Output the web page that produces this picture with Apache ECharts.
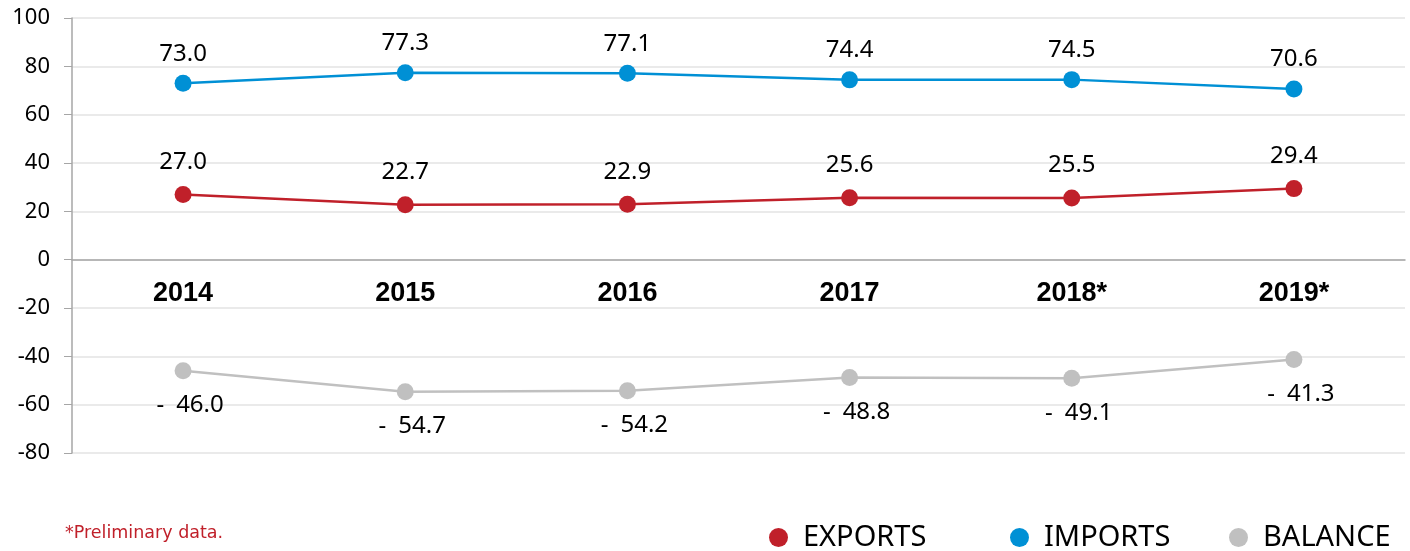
<!DOCTYPE html>
<html lang="en">
<head>
    <meta charset="UTF-8">
    <title>Trade balance</title>
    <script src="https://cdn.jsdelivr.net/npm/echarts@6.0.0/dist/echarts.min.js"></script>
    <style>
        body {
            margin: 0;
            background: #fff;
        }
    </style>
</head>
<body>
    <div id="chart" style="width: 1410px; height: 551px;"></div>
    <script type="text/javascript">
        const years = ['2014', '2015', '2016', '2017', '2018*', '2019*'];
        const exportsData = [27.0, 22.7, 22.9, 25.6, 25.5, 29.4];
        const importsData = [73.0, 77.3, 77.1, 74.4, 74.5, 70.6];
        const balanceData = [-46.0, -54.7, -54.2, -48.8, -49.1, -41.3];

        const chart = echarts.init(document.getElementById('chart'), null, { renderer: 'canvas' });

        const labelFont = { fontFamily: 'Noto Sans', fontSize: 24, color: '#000' };
        const fmt = p => p.value.toFixed(1);

        // one legend per item so each can sit where the original has it
        const legendItem = (name, left) => ({
            left: left,
            top: 518,
            icon: 'circle',
            itemWidth: 19,
            itemHeight: 19,
            textStyle: { fontFamily: 'Noto Sans', fontSize: 29, color: '#000', padding: [0, 0, 0, 10] },
            data: [name]
        });

        // grid is 435px tall for -80..100, so the zero line sits 80/180 of it above the bottom
        const zeroOffset = -(435 * 80 / 180);

        chart.setOption({
            animation: false,
            grid: { left: 72, right: 5, top: 18, bottom: 98 },
            legend: [
                legendItem('EXPORTS', 764),
                legendItem('IMPORTS', 1005),
                legendItem('BALANCE', 1224)
            ],
            graphic: [{
                type: 'text',
                left: 65,
                top: 524,
                style: { text: '*Preliminary data.', fill: '#c0202a', font: '17.5px "DejaVu Sans"' }
            }],
            xAxis: [{
                type: 'category',
                data: years,
                offset: zeroOffset,
                axisLine: { onZero: false, lineStyle: { color: '#a6a6a6', width: 1.5 } },
                axisTick: { alignWithLabel: true, length: 6, lineStyle: { color: '#a6a6a6' } },
                axisLabel: { margin: 20, fontFamily: 'Liberation Sans', fontWeight: 'bold', fontSize: 27, color: '#000' }
            }, {
                // second copy only to draw the upper half of the crossing ticks
                type: 'category',
                data: years,
                position: 'bottom',
                offset: zeroOffset,
                axisLine: { show: false, onZero: false },
                axisTick: { alignWithLabel: true, inside: true, length: 6, lineStyle: { color: '#a6a6a6' } },
                axisLabel: { show: false }
            }],
            yAxis: {
                type: 'value',
                min: -80,
                max: 100,
                interval: 20,
                axisLine: { show: true, lineStyle: { color: '#a6a6a6', width: 1.5 } },
                axisTick: { show: true, length: 8, lineStyle: { color: '#a6a6a6' } },
                axisLabel: { margin: 22, fontFamily: 'Noto Sans', fontSize: 22, color: '#000' },
                splitLine: { lineStyle: { color: '#e3e3e3', width: 1.5 } }
            },
            series: [
                {
                    name: 'EXPORTS',
                    type: 'line',
                    data: exportsData,
                    symbol: 'circle',
                    symbolSize: 17,
                    itemStyle: { color: '#c0202a' },
                    lineStyle: { width: 2.5, color: '#c0202a' },
                    label: { show: true, position: 'top', distance: 12, formatter: fmt, ...labelFont }
                },
                {
                    name: 'IMPORTS',
                    type: 'line',
                    data: importsData,
                    symbol: 'circle',
                    symbolSize: 17,
                    itemStyle: { color: '#0090d5' },
                    lineStyle: { width: 2.5, color: '#0090d5' },
                    label: { show: true, position: 'top', distance: 9, formatter: fmt, ...labelFont }
                },
                {
                    name: 'BALANCE',
                    type: 'line',
                    data: balanceData,
                    symbol: 'circle',
                    symbolSize: 17,
                    itemStyle: { color: '#c0c0c0' },
                    lineStyle: { width: 2.5, color: '#c0c0c0' },
                    label: {
                        show: true, position: 'bottom', distance: 14, offset: [7, 0],
                        formatter: p => '-\u2002' + Math.abs(p.value).toFixed(1),
                        ...labelFont
                    }
                }
            ]
        });
    </script>
</body>
</html>
